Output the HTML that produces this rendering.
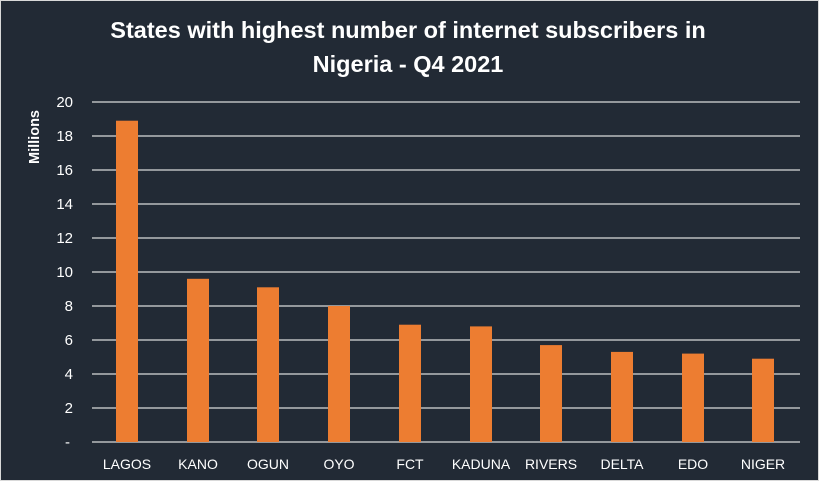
<!DOCTYPE html>
<html><head><style>
html,body{margin:0;padding:0;background:#fff;}
svg{display:block;}
text{font-family:"Liberation Sans",sans-serif;fill:#fff;}
</style></head><body>
<svg width="821" height="483" xmlns="http://www.w3.org/2000/svg">
<rect x="0.5" y="0.5" width="818" height="480" fill="#222a35" stroke="#d9d9d9" stroke-width="1"/>
<text x="408" y="38" text-anchor="middle" font-size="23.5" font-weight="bold">States with highest number of internet subscribers in</text>
<text x="408" y="72" text-anchor="middle" font-size="23.5" font-weight="bold">Nigeria - Q4 2021</text>
<text transform="translate(39,137) rotate(-90)" text-anchor="middle" font-size="14.5" font-weight="bold" fill="#d9d9d9">Millions</text>
<g stroke="#d9d9d9" stroke-width="1.3">
<line x1="92" x2="800" y1="102" y2="102"/><line x1="92" x2="800" y1="136" y2="136"/>
<line x1="92" x2="800" y1="170" y2="170"/><line x1="92" x2="800" y1="204" y2="204"/>
<line x1="92" x2="800" y1="238" y2="238"/><line x1="92" x2="800" y1="272" y2="272"/>
<line x1="92" x2="800" y1="306" y2="306"/><line x1="92" x2="800" y1="340" y2="340"/>
<line x1="92" x2="800" y1="374" y2="374"/><line x1="92" x2="800" y1="408" y2="408"/>
<line x1="92" x2="800" y1="442" y2="442"/>
</g>
<g font-size="15" text-anchor="end" fill="#fff">
<text x="73" y="107">20</text><text x="73" y="141">18</text><text x="73" y="175">16</text>
<text x="73" y="209">14</text><text x="73" y="243">12</text><text x="73" y="277">10</text>
<text x="73" y="311">8</text><text x="73" y="345">6</text><text x="73" y="379">4</text>
<text x="73" y="413">2</text><text x="70" y="447">-</text>
</g>
<g fill="#ed7d31">
<rect x="116" y="120.7" width="22" height="321.3"/>
<rect x="187" y="278.8" width="22" height="163.2"/>
<rect x="257" y="287.3" width="22" height="154.7"/>
<rect x="328" y="306" width="22" height="136"/>
<rect x="399" y="324.7" width="22" height="117.3"/>
<rect x="470" y="326.4" width="22" height="115.6"/>
<rect x="540" y="345.1" width="22" height="96.9"/>
<rect x="611" y="351.9" width="22" height="90.1"/>
<rect x="682" y="353.6" width="22" height="88.4"/>
<rect x="752" y="358.7" width="22" height="83.3"/>
</g>
<g font-size="14" text-anchor="middle">
<text x="127" y="469">LAGOS</text><text x="198" y="469">KANO</text><text x="268" y="469">OGUN</text>
<text x="339" y="469">OYO</text><text x="410" y="469">FCT</text><text x="481" y="469">KADUNA</text>
<text x="551" y="469">RIVERS</text><text x="622" y="469">DELTA</text><text x="693" y="469">EDO</text>
<text x="763" y="469">NIGER</text>
</g>
</svg>
</body></html>
